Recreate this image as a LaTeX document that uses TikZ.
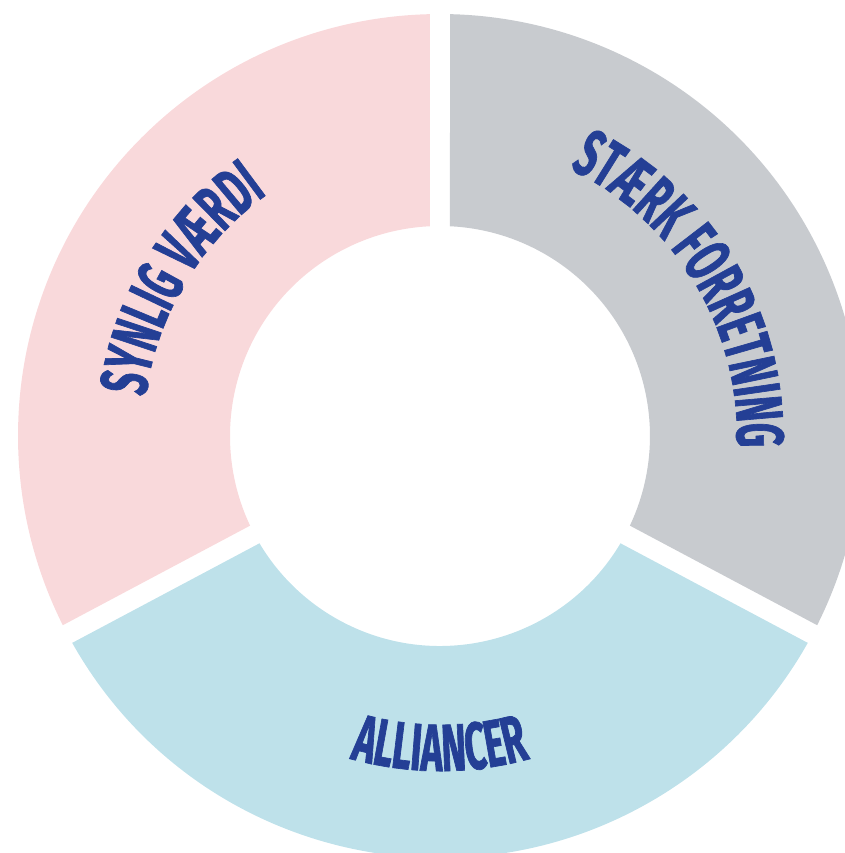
\documentclass[tikz,border=0pt]{standalone}
\usepackage{fontspec}
\newfontfamily\ringfont[FakeStretch=0.56, FakeBold=1]{Fira Sans}
\usetikzlibrary{decorations.text}

\definecolor{ringpink}{HTML}{F9D9DB}
\definecolor{ringgray}{HTML}{C8CBCF}
\definecolor{ringblue}{HTML}{BEE1EA}
\definecolor{labelblue}{HTML}{243F95}

\newcommand{\labelfont}{\ringfont\bfseries\fontsize{19}{20}\selectfont}
% ring part: start angle, end angle, colour
\newcommand{\ringpart}[3]{%
  \fill[#3] ({#1+1.36}:4.22) arc[start angle={#1+1.36}, end angle={#2-1.36}, radius=4.22]
    -- ({#2-2.73}:2.10) arc[start angle={#2-2.73}, end angle={#1+2.73}, radius=2.10] -- cycle;}

\begin{document}
\begin{tikzpicture}[
    ringlabel/.style={decorate, decoration={text along path, text align=center, text color=labelblue}}
  ]
		% Canvas
		\useasboundingbox (0,0) rectangle (8.45,8.53);
		\clip (0,0) rectangle (8.45,8.53);
		\coordinate (c) at (4.40,4.17);

		\begin{scope}[shift={(c)}]
		% Draw ring parts
		\ringpart{-28}{90}{ringgray}
		\ringpart{90}{208}{ringpink}
		\ringpart{208}{332}{ringblue}

		% Draw labels
		\path[ringlabel, decoration={text={|\labelfont|SYNLIG VÆRDI}}]
			(208:2.97) arc[start angle=208, end angle=90, radius=2.97];
		\path[ringlabel, decoration={text={|\labelfont|STÆRK FORRETNING}}]
			(90:2.97) arc[start angle=90, end angle=-28, radius=2.97];
		\path[ringlabel, decoration={text={|\labelfont|ALLIANCER}}]
			(208:3.35) arc[start angle=208, end angle=332, radius=3.35];
		\end{scope}
	\end{tikzpicture}
\end{document}
